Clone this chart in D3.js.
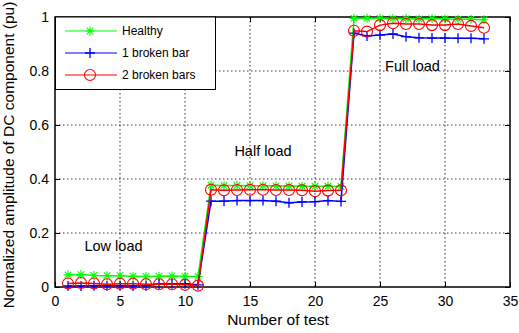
<!DOCTYPE html>
<html lang="en">
<head>
  <meta charset="UTF-8" />
  <title>DC component amplitude</title>
  <script src="https://d3js.org/d3.v7.min.js"></script>
  <style>
    body { margin: 0; background: #fff; }
    svg { display: block; font-family: "Liberation Sans", Arial, sans-serif; }
    .grid line { stroke: #000; stroke-width: 0.8; stroke-dasharray: 1.5,2.5; }
    .tick text { font-size: 14px; fill: #000; }
  </style>
</head>
<body>
  <svg width="519" height="333"></svg>

  <script>
    // test numbers 1..33
    const tests = d3.range(1, 34);

    const healthy = [
      0.045, 0.046, 0.043, 0.042, 0.042, 0.040, 0.039, 0.040, 0.041, 0.039, 0.039,
      0.377, 0.376, 0.376, 0.375, 0.375, 0.374, 0.374, 0.373, 0.373, 0.373, 0.372,
      0.995, 0.995, 0.995, 0.994, 0.994, 0.993, 0.994, 0.993, 0.992, 0.992, 0.990
    ];
    const oneBar = [
      0.004, 0.004, 0.005, 0.005, 0.005, 0.004, 0.005, 0.011, 0.012, 0.012, 0.008,
      0.318, 0.318, 0.320, 0.320, 0.320, 0.318, 0.312, 0.315, 0.316, 0.320, 0.317,
      0.940, 0.930, 0.933, 0.937, 0.927, 0.923, 0.922, 0.922, 0.921, 0.921, 0.919
    ];
    const twoBars = [
      0.013, 0.015, 0.013, 0.010, 0.012, 0.012, 0.010, 0.010, 0.010, 0.008, 0.005,
      0.360, 0.358, 0.359, 0.360, 0.360, 0.359, 0.359, 0.358, 0.355, 0.357, 0.358,
      0.949, 0.946, 0.970, 0.977, 0.974, 0.974, 0.970, 0.970, 0.974, 0.967, 0.960
    ];

    const xTicks = [0, 5, 10, 15, 20, 25, 30, 35];
    const yTicks = [0, 0.2, 0.4, 0.6, 0.8, 1];

    const series = [
      { name: "Healthy", values: healthy, color: "#00ff00", marker: "star" },
      { name: "1 broken bar", values: oneBar, color: "#0000ff", marker: "plus" },
      { name: "2 broken bars", values: twoBars, color: "#ff0000", marker: "circle" }
    ];

    const notes = [
      { text: "Low load", x: 4.5, y: 0.135 },
      { text: "Half load", x: 16, y: 0.485 },
      { text: "Full load", x: 27.5, y: 0.8 }
    ];

    const svg = d3.select("svg");
    const margin = { left: 55, right: 9, top: 17, bottom: 46 };
    const width = 519 - margin.left - margin.right;
    const height = 333 - margin.top - margin.bottom;

    const x = d3.scaleLinear().domain([0, 35]).range([0, width]);
    const y = d3.scaleLinear().domain([0, 1]).range([height, 0]);

    const g = svg.append("g").attr("transform", `translate(${margin.left},${margin.top})`);

    // dotted grid
    g.append("g").attr("class", "grid")
      .selectAll("line").data(xTicks.slice(1, -1)).enter().append("line")
      .attr("x1", d => x(d)).attr("x2", d => x(d)).attr("y1", 0).attr("y2", height);
    g.append("g").attr("class", "grid")
      .selectAll("line").data(yTicks.slice(1, -1)).enter().append("line")
      .attr("x1", 0).attr("x2", width).attr("y1", d => y(d)).attr("y2", d => y(d));

    // axes, ticks pointing inward like matlab
    const fmt = d => d === 0 ? "0" : d === 1 ? "1" : d3.format(".1f")(d);
    g.append("g").attr("transform", `translate(0,${height})`)
      .call(d3.axisBottom(x).tickValues(xTicks).tickSize(-5).tickPadding(9))
      .call(a => a.select(".domain").remove());
    g.append("g")
      .call(d3.axisLeft(y).tickValues(yTicks).tickFormat(fmt).tickSize(-5).tickPadding(6))
      .call(a => a.select(".domain").remove());
    g.append("g")
      .call(d3.axisTop(x).tickValues(xTicks).tickSize(-5).tickFormat(""))
      .call(a => a.select(".domain").remove());
    g.append("g").attr("transform", `translate(${width},0)`)
      .call(d3.axisRight(y).tickValues(yTicks).tickSize(-5).tickFormat(""))
      .call(a => a.select(".domain").remove());
    g.selectAll(".tick line").attr("stroke", "#000");

    g.append("rect")
      .attr("width", width).attr("height", height)
      .attr("fill", "none").attr("stroke", "#000").attr("stroke-width", 1.5);

    const line = d3.line().x((d, i) => x(tests[i])).y(d => y(d));

    function drawMarker(sel, type, color) {
      if (type === "circle") {
        sel.append("circle").attr("r", 5.5).attr("fill", "none")
          .attr("stroke", color).attr("stroke-width", 1.1);
      } else if (type === "plus") {
        sel.append("path").attr("d", "M-5,0H5M0,-5V5")
          .attr("stroke", color).attr("stroke-width", 1.3);
      } else {
        sel.append("path").attr("d", "M-4.5,0H4.5M0,-4.5V4.5M-3.3,-3.3L3.3,3.3M-3.3,3.3L3.3,-3.3")
          .attr("stroke", color).attr("stroke-width", 1.1);
      }
    }

    series.forEach(s => {
      g.append("path").datum(s.values)
        .attr("d", line).attr("fill", "none")
        .attr("stroke", s.color).attr("stroke-width", 1.5);
      g.append("g").selectAll("g").data(s.values).enter().append("g")
        .attr("transform", (d, i) => `translate(${x(tests[i])},${y(d)})`)
        .each(function() { drawMarker(d3.select(this), s.marker, s.color); });
    });

    g.selectAll(".note").data(notes).enter().append("text")
      .attr("class", "note")
      .attr("x", d => x(d.x)).attr("y", d => y(d.y))
      .attr("text-anchor", "middle")
      .attr("font-size", 14.5)
      .text(d => d.text);

    // legend
    const leg = g.append("g");
    leg.append("rect").attr("x", 0.5).attr("y", 0)
      .attr("width", 160).attr("height", 72.5)
      .attr("fill", "#fff").attr("stroke", "#000").attr("stroke-width", 1);
    series.forEach((s, i) => {
      const row = leg.append("g").attr("transform", `translate(0,${14 + i * 22})`);
      row.append("line").attr("x1", 10).attr("x2", 62)
        .attr("stroke", s.color).attr("stroke-width", 1.2);
      drawMarker(row.append("g").attr("transform", "translate(35,0)"), s.marker, s.color);
      row.append("text").attr("x", 67).attr("y", 4).attr("font-size", 12).text(s.name);
    });

    // axis titles
    svg.append("text")
      .attr("x", 278).attr("y", 325)
      .attr("text-anchor", "middle").attr("font-size", 15.5)
      .text("Number of test");
    svg.append("text")
      .attr("transform", "translate(14,155) rotate(-90)")
      .attr("text-anchor", "middle").attr("font-size", 15.5)
      .text("Normalized amplitude of DC component (pu)");
  </script>
</body>
</html>
